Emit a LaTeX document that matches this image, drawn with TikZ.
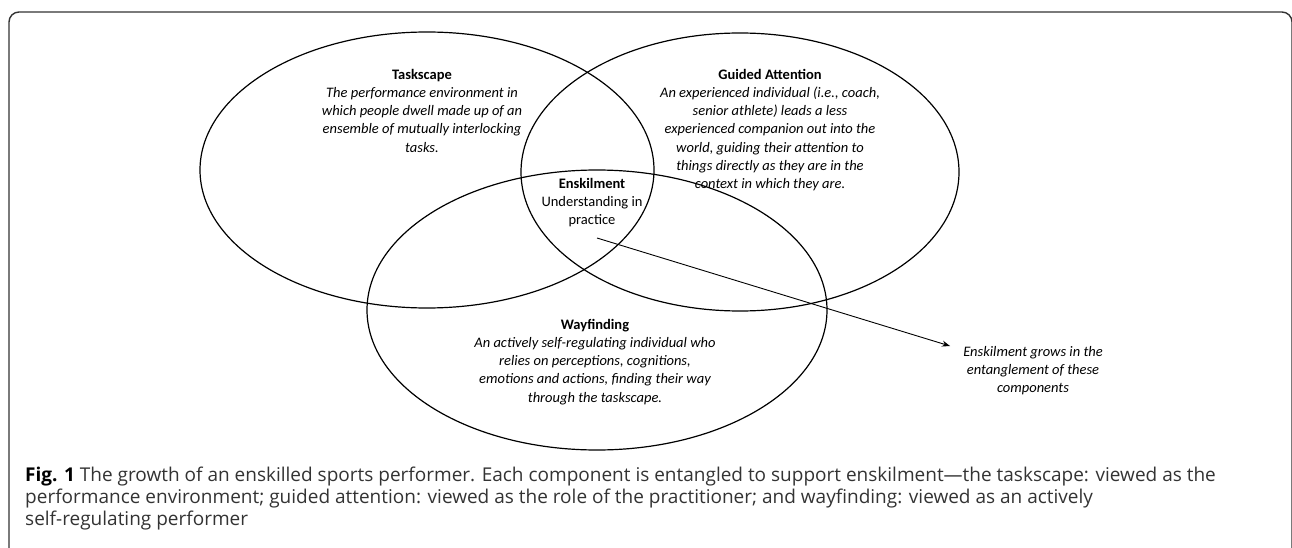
\documentclass[tikz,border=0pt]{standalone}
\usepackage{fontspec}
\setmainfont{Carlito}
\newfontfamily\capfont{Open Sans}
\usetikzlibrary{arrows.meta,shapes.geometric}
\begin{document}
\begin{tikzpicture}[x=1pt,y=-1pt,
  venn/.style={draw=black, line width=1.2pt, ellipse, inner sep=0pt},
  block/.style={align=center, inner sep=0pt, anchor=north, font=\fontsize{14.5}{18.2}\selectfont},
  frame/.style={rounded corners=10pt, line width=1.4pt, draw=black!80},
  caption/.style={align=left, inner sep=0pt, anchor=north west, text=black!80, font=\capfont\fontsize{19}{22}\selectfont},
  pointer/.style={draw=black, line width=0.9pt, -{Stealth[length=8pt,width=6pt]}}
]
\path[use as bounding box] (0,0) rectangle (1292,548);
\begin{scope}
\clip (0,0) rectangle (1292,548);
\draw[frame] (9,620) -- (9,12) -- (1292,12) -- (1292,620);
\end{scope}

\node[venn, minimum width=454pt, minimum height=276pt] (T) at (427,170) {};
\node[venn, minimum width=438pt, minimum height=278pt] (G) at (740,172) {};
\node[venn, minimum width=460pt, minimum height=280pt] (W) at (597,310) {};

\node[block] (Tt) at (422,69) {\textbf{Taskscape}\\ \itshape The performance environment in\\ \itshape which people dwell made up of an\\ \itshape ensemble of mutually interlocking\\ \itshape tasks.};
\node[block] (Gt) at (770,69) {\textbf{Guided Attention}\\ \itshape An experienced individual (i.e., coach,\\ \itshape senior athlete) leads a less\\ \itshape experienced companion out into the\\ \itshape world, guiding their attention to\\ \itshape things directly as they are in the\\ \itshape context in which they are.};
\node[block] (Et) at (592,178) {\textbf{Enskilment}\\ Understanding in\\ practice};
\node[block] (Wt) at (595,319) {\textbf{Wayfinding}\\ \itshape An actively self-regulating individual who\\ \itshape relies on perceptions, cognitions,\\ \itshape emotions and actions, finding their way\\ \itshape through the taskscape.};
\node[block] (At) at (1033,346) {\itshape Enskilment grows in the\\ \itshape entanglement of these\\ \itshape components};

\coordinate (aS) at (597,238);
\coordinate (aE) at (950,346);
\draw[pointer] (aS) -- (aE);

\node[caption] (cap) at (25,467) {{\bfseries\color{black}Fig. 1} The growth of an enskilled sports performer. Each component is entangled to support enskilment\textemdash the taskscape: viewed as the\\
performance environment; guided attention: viewed as the role of the practitioner; and wayfinding: viewed as an actively\\
self-regulating performer};
\end{tikzpicture}
\end{document}
